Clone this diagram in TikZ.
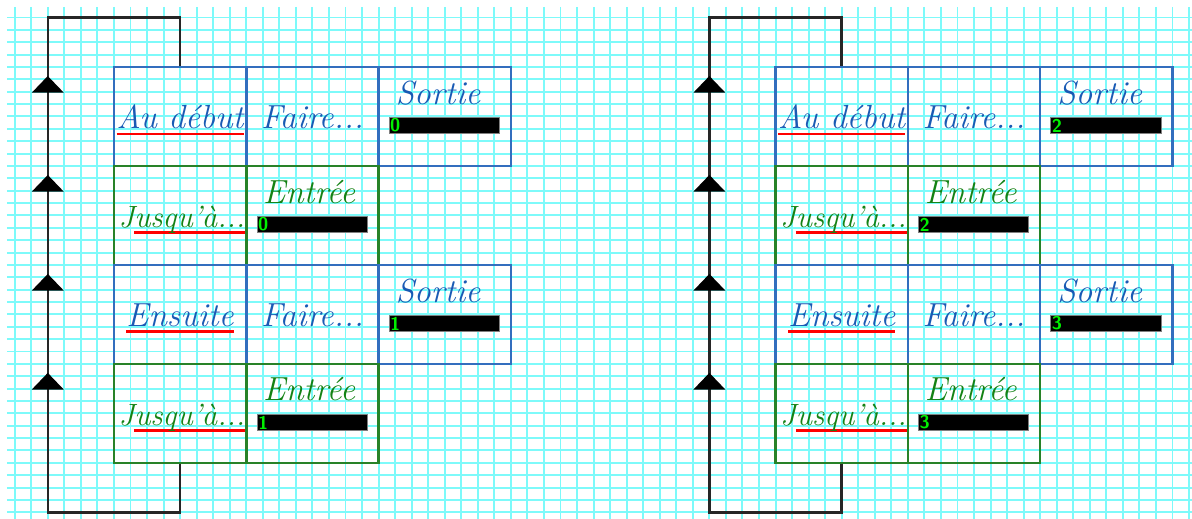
\documentclass[tikz,border=0pt]{standalone}
\usepackage{tikz}
\usetikzlibrary{positioning}

\definecolor{gridcyan}{RGB}{125,250,250}
\definecolor{boxblue}{RGB}{50,110,190}
\definecolor{txtblue}{RGB}{25,90,180}
\definecolor{boxgreen}{RGB}{40,130,40}
\definecolor{txtgreen}{RGB}{20,130,20}
\definecolor{digitgreen}{RGB}{0,240,0}

% red line under a word
\newcommand{\redul}[1]{\setbox0\hbox{#1}\rlap{\color{red}\rule[-3.5pt]{\wd0}{1.4pt}}\box0}

\begin{document}
\begin{tikzpicture}[x=0.3308cm,y=-0.2474cm,
    gridline/.style={gridcyan,line width=1.1pt},
    bluebox/.style={draw=boxblue,line width=1.5pt,minimum width=2.6464cm,minimum height=1.979cm,inner sep=0pt},
    greenbox/.style={draw=boxgreen,line width=1.5pt,minimum width=2.6464cm,minimum height=1.979cm,inner sep=0pt},
    bluelbl/.style={txtblue,font=\fontsize{19}{22}\selectfont\itshape,anchor=base,inner sep=0pt},
    greenlbl/.style={txtgreen,font=\fontsize{19}{22}\selectfont\itshape,anchor=base,inner sep=0pt},
    narrow/.style={font=\fontsize{17.5}{20}\selectfont\itshape},
    bar/.style={fill=black,draw=gray,line width=0.5pt,minimum width=2.203cm,minimum height=0.3216cm,inner sep=0pt,anchor=north west},
    digit/.style={digitgreen,font=\sffamily\bfseries\fontsize{10.5}{10}\selectfont,inner sep=0.6pt,anchor=west},
    loopline/.style={black!85,line width=1.4pt}]

    \useasboundingbox (-0.889,-1.415) rectangle (71.18,40.54);

    % squared paper
    \foreach \c in {0,...,71}
        \draw[gridline] (\c,-0.85) -- (\c,40.54);
    \foreach \r in {0,...,40}
        \draw[gridline] (-0.466,\r) -- (71.18,\r);

    \foreach \d/\dx/\na/\nb in {L/0/0/1,R/40/2/3} {
        \node[bluebox] (debut\d) at (\dx+10,8) {};
        \node[bluebox] (faireA\d) at (\dx+18,8) {};
        \node[bluebox] (sortieA\d) at (\dx+26,8) {};
        \node[greenbox] (jusqA\d) at (\dx+10,16) {};
        \node[greenbox] (entreeA\d) at (\dx+18,16) {};
        \node[bluebox] (ensuite\d) at (\dx+10,24) {};
        \node[bluebox] (faireB\d) at (\dx+18,24) {};
        \node[bluebox] (sortieB\d) at (\dx+26,24) {};
        \node[greenbox] (jusqB\d) at (\dx+10,32) {};
        \node[greenbox] (entreeB\d) at (\dx+18,32) {};

        \node[bluelbl] (debutT\d) at (\dx+10,9) {\redul{Au début}};
        \node[bluelbl] (faireAT\d) at (\dx+18,9) {Faire...};
        \node[bluelbl] (sortieAT\d) at (\dx+25.6,7) {Sortie};
        \node[greenlbl,narrow] (jusqAT\d) at (\dx+10.1,17) {J\redul{usqu'à...}};
        \node[greenlbl] (entreeAT\d) at (\dx+17.8,15) {Entrée};
        \node[bluelbl] (ensuiteT\d) at (\dx+10,25) {\redul{Ensuite}};
        \node[bluelbl] (faireBT\d) at (\dx+18,25) {Faire...};
        \node[bluelbl] (sortieBT\d) at (\dx+25.6,23) {Sortie};
        \node[greenlbl,narrow] (jusqBT\d) at (\dx+10.1,33) {J\redul{usqu'à...}};
        \node[greenlbl] (entreeBT\d) at (\dx+17.8,31) {Entrée};

        \node[bar] (barSA\d) at (\dx+22.62,8.05) {};
        \node[bar] (barEA\d) at (\dx+14.63,16.05) {};
        \node[bar] (barSB\d) at (\dx+22.62,24.05) {};
        \node[bar] (barEB\d) at (\dx+14.63,32.05) {};
        \node[digit] (numSA\d) at (barSA\d.west) {\na};
        \node[digit] (numEA\d) at (barEA\d.west) {\na};
        \node[digit] (numSB\d) at (barSB\d.west) {\nb};
        \node[digit] (numEB\d) at (barEB\d.west) {\nb};

        % loop back to the start
        \coordinate (lbot\d) at (\dx+2,40);
        \coordinate (ltop\d) at (\dx+10,0);
        \draw[loopline] (jusqB\d.south) |- (lbot\d) |- (ltop\d) -- (debut\d.north);
        \foreach \r in {0,8,16,24}
            \fill (\dx+2,\r+4.73) -- (\dx+2.97,\r+6.08) -- (\dx+1.03,\r+6.08) -- cycle;
    }
\end{tikzpicture}
\end{document}
